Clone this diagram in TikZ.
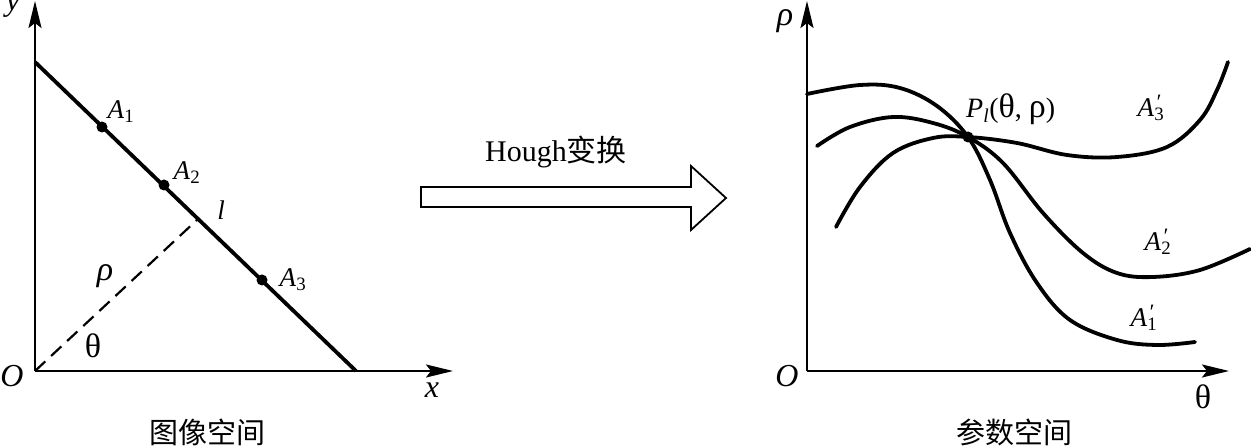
\documentclass[tikz,border=0pt]{standalone}
\usepackage{fontspec}
\setmainfont{Liberation Serif}
\newfontfamily\cjk{Noto Sans CJK SC}
\usetikzlibrary{arrows.meta}
\newcommand\labA[1]{\textit{A}\textsubscript{#1}}
\newcommand\labAp[1]{\textit{A}\rlap{\raisebox{0.55ex}{\fontsize{22}{24}\selectfont\kern1pt\textit{′}}}\textsubscript{#1}}
\newcommand\gk[1]{{\fontsize{34}{36}\selectfont #1}}
\begin{document}
\begin{tikzpicture}[x=1pt,y=-1pt,
 axis/.style={line width=2.3pt,-{Stealth[length=27pt,width=13pt,inset=5pt]}},
 thick line/.style={line width=3.8pt, line join=round, line cap=round},
 lab/.style={font=\fontsize{27}{30}\selectfont, inner sep=0pt},
 big/.style={font=\fontsize{32}{36}\selectfont, inner sep=0pt},
 cjklab/.style={font=\cjk\fontsize{29}{34}\selectfont, inner sep=0pt},
 dot/.style={circle, fill, inner sep=0pt, minimum size=11pt}]
\useasboundingbox (0,0) rectangle (1251,446);

% ---------- left panel: image space ----------
\coordinate (O1) at (35,371);
\coordinate (Y1) at (35,1);
\coordinate (X1) at (453,371);
\draw[axis] (O1) -- (Y1);
\draw[axis] (O1) -- (X1);
\coordinate (L1) at (35,62);
\coordinate (L2) at (356,371);
\draw[thick line, line cap=butt] (L1) -- (L2);
\coordinate (F) at (198,219);
\draw[line width=2.2pt, dash pattern=on 14pt off 8pt] (O1) -- (F);
\node[dot] (A1) at (102,127) {};
\node[dot] (A2) at (164,185) {};
\node[dot] (A3) at (262,280) {};
\node[lab] (tA1) at (121,112) {\labA{1}};
\node[lab] (tA2) at (187,173) {\labA{2}};
\node[lab] (tA3) at (293,280) {\labA{3}};
\node[lab] (tl) at (221,210) {\textit{l}};
\node[lab] (trho) at (105,276) {\gk{\textit{ρ}}};
\node[lab] (ttheta) at (93,346) {\gk{θ}};
\node[big] (tO1) at (12,376) {\textit{O}};
\node[big] (ty) at (13,7) {\textit{y}};
\node[big] (tx) at (432,390) {\textit{x}};
\node[cjklab] (c1) at (207,432) {图像空间};

% ---------- Hough arrow ----------
\draw[line width=1.8pt, line join=miter] (421,187) -- (691,187) -- (691,166) -- (726,198) -- (691,230) -- (691,207) -- (421,207) -- cycle;
\node[font=\fontsize{30}{34}\selectfont, inner sep=0pt] (hough) at (556,152) {Hough{\cjk 变换}};

% ---------- right panel: parameter space ----------
\coordinate (O2) at (807,371);
\coordinate (Y2) at (807,1);
\coordinate (X2) at (1229,371);
\draw[axis] (O2) -- (Y2);
\draw[axis] (O2) -- (X2);
\coordinate (P) at (968,137);
% A1'
\draw[thick line] plot[smooth, tension=0.6] coordinates {(807,94) (860,85) (900,88) (937,106) (968,137) (990,180) (1010,233) (1037,283) (1070,320) (1117,340) (1157,345) (1195,342)};
% A2'
\draw[thick line] plot[smooth, tension=0.6] coordinates {(817,146) (850,127) (893,117) (933,123) (968,137) (1003,163) (1043,213) (1083,253) (1117,273) (1153,277) (1200,270) (1250,249)};
% A3'
\draw[thick line] plot[smooth, tension=0.6] coordinates {(836,227) (860,187) (893,153) (933,138) (968,137) (1017,143) (1067,155) (1117,157) (1167,147) (1200,120) (1217,90) (1228,62)};
\node[dot] (Pd) at (P) {};
\node[lab, anchor=west, font=\fontsize{28}{30}\selectfont] (tP) at (966,109) {\textit{P}\textsubscript{\textit{l}}(\gk{θ}, \gk{ρ})};
\node[lab] (tA3p) at (1151,108) {\labAp{3}};
\node[lab] (tA2p) at (1158,242) {\labAp{2}};
\node[lab] (tA1p) at (1144,318) {\labAp{1}};
\node[lab] (trho2) at (785,21) {\gk{\textit{ρ}}};
\node[lab] (ttheta2) at (1203,397) {\gk{θ}};
\node[big] (tO2) at (787,376) {\textit{O}};
\node[cjklab] (c2) at (1014,432) {参数空间};
\end{tikzpicture}
\end{document}
